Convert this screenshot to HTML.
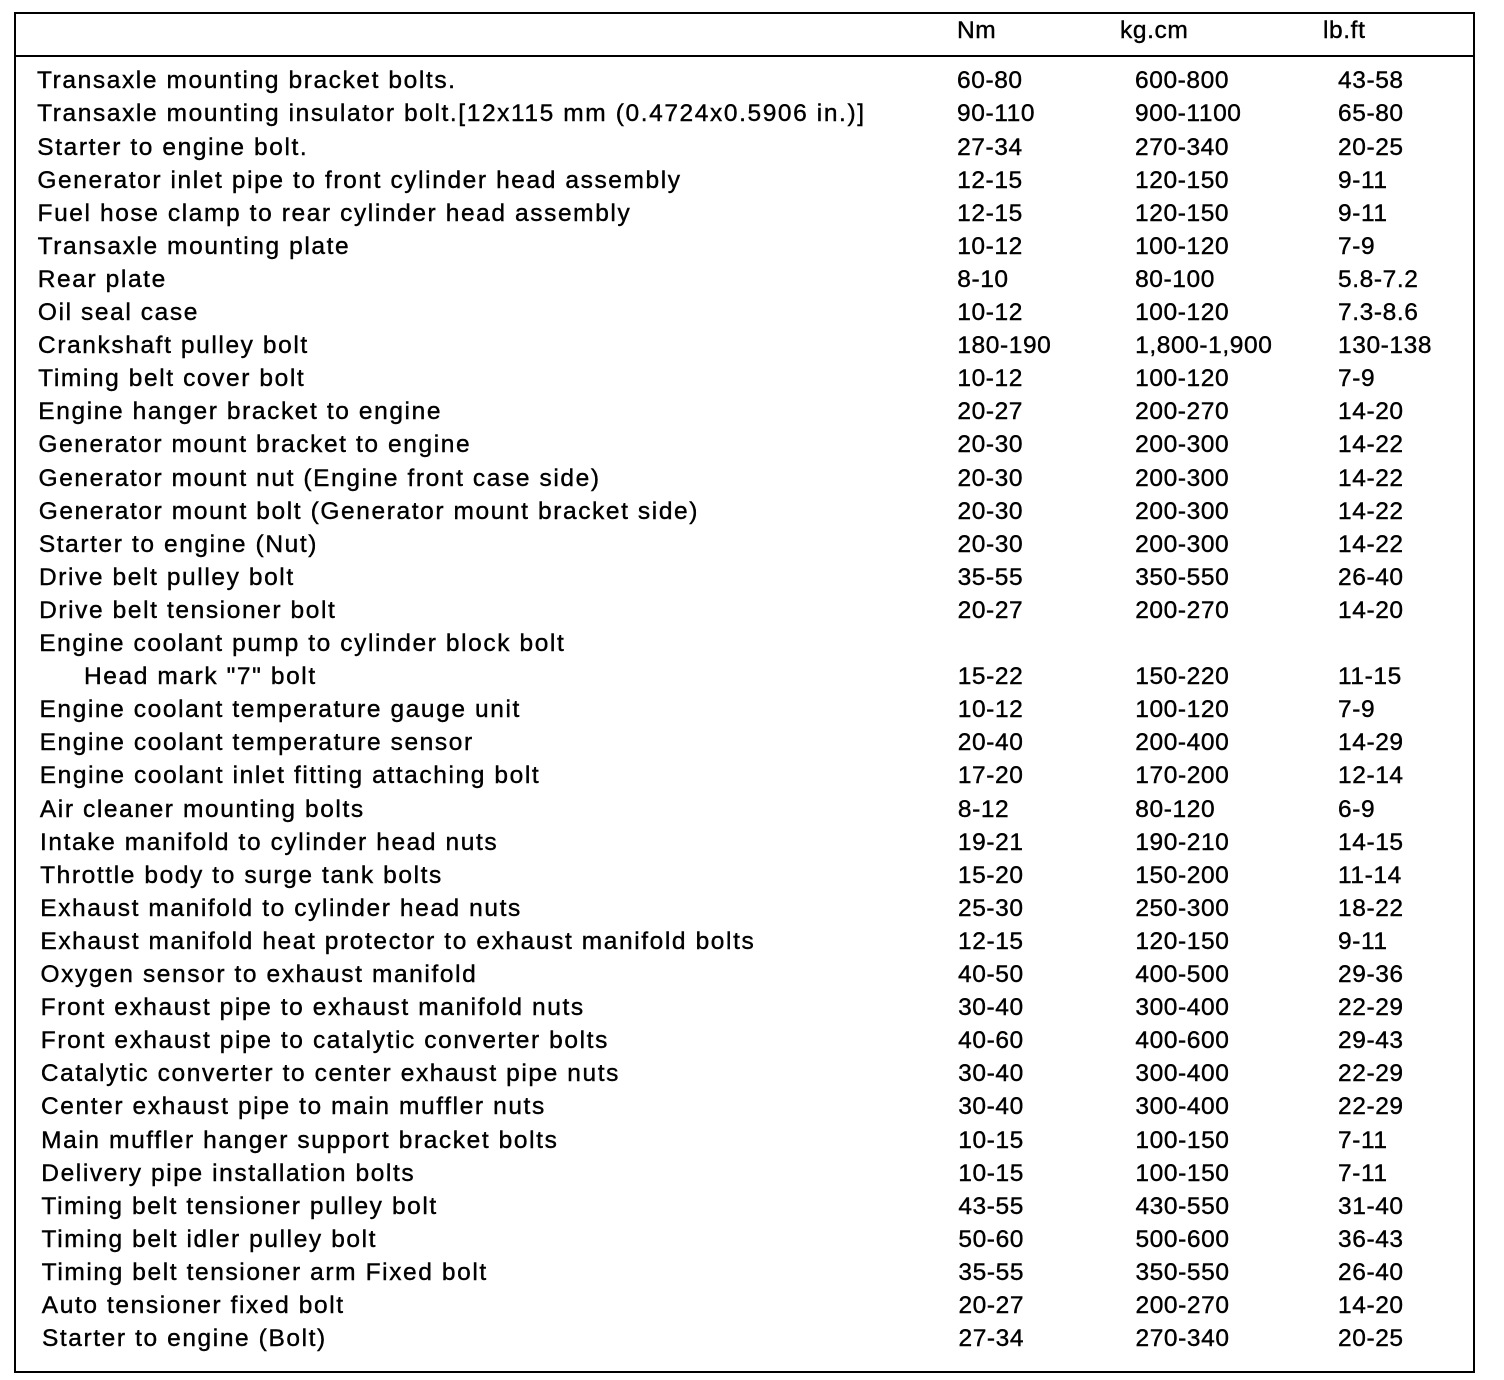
<!DOCTYPE html>
<html><head><meta charset="utf-8"><style>
body{margin:0;width:1504px;height:1380px;background:#fff;position:relative;overflow:hidden;font-family:"Liberation Sans",Arial,sans-serif;color:#000}
.b{position:absolute;left:14px;top:12px;width:1457px;height:1357px;border:2px solid #000}
.h{position:absolute;left:14px;top:55px;width:1461px;height:2px;background:#000}
.t{position:absolute;font-size:24.5px;line-height:24.5px;white-space:nowrap;-webkit-text-stroke:0.4px #000;letter-spacing:0.6px}
.l{letter-spacing:1.6px}
</style></head><body>
<div class="b"></div><div class="h"></div>
<div id="c"></div>
<script>
var rows=[
["Transaxle mounting bracket bolts.","60-80","600-800","43-58"],
["Transaxle mounting insulator bolt.[12x115 mm (0.4724x0.5906 in.)]","90-110","900-1100","65-80"],
["Starter to engine bolt.","27-34","270-340","20-25"],
["Generator inlet pipe to front cylinder head assembly","12-15","120-150","9-11"],
["Fuel hose clamp to rear cylinder head assembly","12-15","120-150","9-11"],
["Transaxle mounting plate","10-12","100-120","7-9"],
["Rear plate","8-10","80-100","5.8-7.2"],
["Oil seal case","10-12","100-120","7.3-8.6"],
["Crankshaft pulley bolt","180-190","1,800-1,900","130-138"],
["Timing belt cover bolt","10-12","100-120","7-9"],
["Engine hanger bracket to engine","20-27","200-270","14-20"],
["Generator mount bracket to engine","20-30","200-300","14-22"],
["Generator mount nut (Engine front case side)","20-30","200-300","14-22"],
["Generator mount bolt (Generator mount bracket side)","20-30","200-300","14-22"],
["Starter to engine (Nut)","20-30","200-300","14-22"],
["Drive belt pulley bolt","35-55","350-550","26-40"],
["Drive belt tensioner bolt","20-27","200-270","14-20"],
["Engine coolant pump to cylinder block bolt","","",""],
["IHead mark \"7\" bolt","15-22","150-220","11-15"],
["Engine coolant temperature gauge unit","10-12","100-120","7-9"],
["Engine coolant temperature sensor","20-40","200-400","14-29"],
["Engine coolant inlet fitting attaching bolt","17-20","170-200","12-14"],
["Air cleaner mounting bolts","8-12","80-120","6-9"],
["Intake manifold to cylinder head nuts","19-21","190-210","14-15"],
["Throttle body to surge tank bolts","15-20","150-200","11-14"],
["Exhaust manifold to cylinder head nuts","25-30","250-300","18-22"],
["Exhaust manifold heat protector to exhaust manifold bolts","12-15","120-150","9-11"],
["Oxygen sensor to exhaust manifold","40-50","400-500","29-36"],
["Front exhaust pipe to exhaust manifold nuts","30-40","300-400","22-29"],
["Front exhaust pipe to catalytic converter bolts","40-60","400-600","29-43"],
["Catalytic converter to center exhaust pipe nuts","30-40","300-400","22-29"],
["Center exhaust pipe to main muffler nuts","30-40","300-400","22-29"],
["Main muffler hanger support bracket bolts","10-15","100-150","7-11"],
["Delivery pipe installation bolts","10-15","100-150","7-11"],
["Timing belt tensioner pulley bolt","43-55","430-550","31-40"],
["Timing belt idler pulley bolt","50-60","500-600","36-43"],
["Timing belt tensioner arm Fixed bolt","35-55","350-550","26-40"],
["Auto tensioner fixed bolt","20-27","200-270","14-20"],
["Starter to engine (Bolt)","27-34","270-340","20-25"]];
var h="";
function t(x,b,s,c){h+='<div class="t'+(c?' l':'')+'" style="left:'+x+'px;top:'+(b-20.7).toFixed(1)+'px">'+s.replace(/"/g,'&quot;')+'</div>';}
t(957,40,"Nm");t(1120,40,"kg.cm");t(1323,40,"lb.ft");
rows.forEach(function(r,i){
 var b=90+i*33.1, d=i*0.13, lab=r[0], x=37+d;
 if(lab[0]=="I"&&lab[1]=="H"){lab=lab.slice(1);x=84;}
 t(x,b,lab,1);
 if(r[1])t(957+d*0.3,b,r[1]);
 if(r[2])t(1135+d*0.1,b,r[2]);
 if(r[3])t(1338,b,r[3]);
});
document.getElementById("c").innerHTML=h;
</script>
</body></html>
